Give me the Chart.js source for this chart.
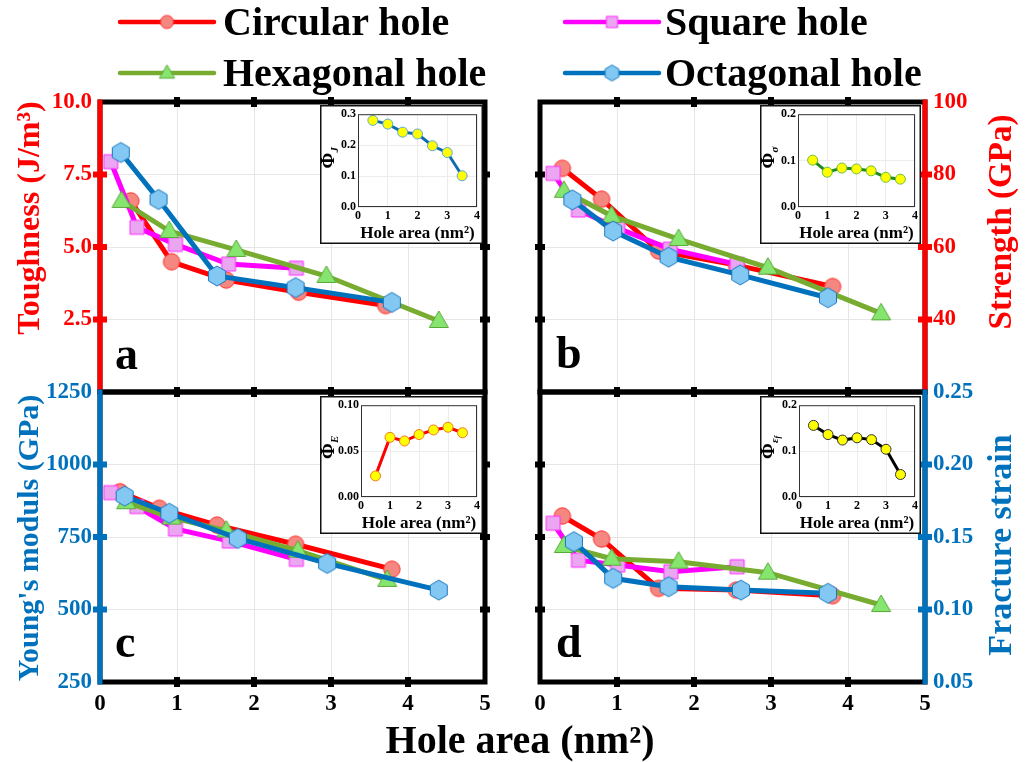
<!DOCTYPE html>
<html>
<head>
<meta charset="utf-8">
<script src="https://cdn.jsdelivr.net/npm/chart.js@4.4.1/dist/chart.umd.min.js"></script>
<style>
  body { margin: 0; width: 1025px; height: 762px; background: #fff; position: relative; overflow: hidden;
         font-family: "Liberation Serif", "Times New Roman", serif; font-weight: bold; }
  canvas { position: absolute; }
  .t { position: absolute; white-space: nowrap; line-height: 1; }
  .rot { transform: translate(-50%, -50%) rotate(-90deg); font-size: 30px; }
  .leg { font-size: 40px; color: #000; }
  .panel { font-size: 46px; color: #000; }
</style>
</head>
<body>
<canvas id="legend" width="1025" height="95" style="left:0;top:0"></canvas>
<div class="t leg" style="left:223px;top:2px">Circular hole</div>
<div class="t leg" style="left:665px;top:2px">Square hole</div>
<div class="t leg" style="left:223px;top:53px">Hexagonal hole</div>
<div class="t leg" style="left:665px;top:53px">Octagonal hole</div>

<canvas id="pa" width="500" height="335" style="left:0;top:80px"></canvas>
<canvas id="pb" width="505" height="335" style="left:520px;top:80px"></canvas>
<canvas id="pc" width="500" height="350" style="left:0;top:370px"></canvas>
<canvas id="pd" width="505" height="350" style="left:520px;top:370px"></canvas>

<canvas id="ia" width="163" height="139" style="left:320px;top:105px"></canvas>
<canvas id="ib" width="161" height="139" style="left:760px;top:105px"></canvas>
<canvas id="ic" width="163" height="138" style="left:320px;top:396px"></canvas>
<canvas id="id" width="161" height="138" style="left:760px;top:396px"></canvas>

<div class="t panel" style="left:115px;top:331px">a</div>
<div class="t panel" style="left:556px;top:330px">b</div>
<div class="t panel" style="left:115px;top:619px">c</div>
<div class="t panel" style="left:556px;top:619px">d</div>

<div class="t rot" style="left:28px;top:218px;color:#ff0000;font-size:32px">Toughness (J/m³)</div>
<div class="t rot" style="left:28px;top:538px;color:#0072bd">Young's moduls (GPa)</div>
<div class="t rot" style="left:1000px;top:222px;color:#ff0000;font-size:33px">Strength (GPa)</div>
<div class="t rot" style="left:1000px;top:545px;color:#0072bd;font-size:34px">Fracture strain</div>
<div class="t" style="left:520px;top:740px;transform:translate(-50%,-50%);font-size:40px">Hole area (nm²)</div>

<script>
// ---------- data ----------
const seriesNames = ["Circular hole", "Square hole", "Hexagonal hole", "Octagonal hole"];
const xTicks = [0, 1, 2, 3, 4, 5];
const xTickLabels = ["0", "1", "2", "3", "4", "5"];

// (a) toughness, J/m3
const aCircX = [0.40, 0.93, 1.64, 2.58, 3.71];
const aCircY = [6.59, 4.49, 3.86, 3.44, 2.98];
const aSqX = [0.14, 0.48, 0.98, 1.67, 2.55];
const aSqY = [7.94, 5.68, 5.09, 4.41, 4.27];
const aHexX = [0.28, 0.90, 1.77, 2.94, 4.40];
const aHexY = [6.59, 5.55, 4.90, 4.00, 2.45];
const aOctX = [0.27, 0.76, 1.52, 2.54, 3.79];
const aOctY = [8.26, 6.64, 4.00, 3.60, 3.09];
const aYTicks = [0, 2.5, 5, 7.5, 10];
const aYLabels = ["", "2.5", "5.0", "7.5", "10.0"];

// (b) strength, GPa
const bCircX = [0.29, 0.80, 1.54, 2.55, 3.80];
const bCircY = [81.7, 73.2, 58.9, 55.0, 49.1];
const bSqX = [0.17, 0.50, 1.01, 1.69, 2.56];
const bSqY = [80.3, 70.2, 65.2, 59.4, 55.2];
const bHexX = [0.31, 0.93, 1.80, 2.96, 4.43];
const bHexY = [75.5, 68.6, 62.2, 54.3, 41.7];
const bOctX = [0.42, 0.95, 1.67, 2.60, 3.74];
const bOctY = [73.0, 64.4, 57.2, 52.3, 46.0];
const bYTicks = [20, 40, 60, 80, 100];
const bYLabels = ["", "40", "60", "80", "100"];

// (c) Young's modulus, GPa
const cCircX = [0.26, 0.77, 1.52, 2.54, 3.79];
const cCircY = [906, 849, 791, 725, 639];
const cSqX = [0.14, 0.48, 0.98, 1.68, 2.55];
const cSqY = [903, 855, 778, 736, 673];
const cHexX = [0.34, 0.93, 1.64, 2.57, 3.73];
const cHexY = [870, 817, 772, 703, 602];
const cOctX = [0.32, 0.90, 1.79, 2.95, 4.40];
const cOctY = [891, 832, 745, 659, 567];
const cYTicks = [250, 500, 750, 1000, 1250];
const cYLabels = ["250", "500", "750", "1000", "1250"];

// (d) fracture strain
const dCircX = [0.29, 0.80, 1.54, 2.55, 3.80];
const dCircY = [0.1645, 0.1486, 0.1146, 0.1134, 0.1095];
const dSqX = [0.17, 0.50, 1.01, 1.70, 2.56];
const dSqY = [0.1595, 0.134, 0.1307, 0.126, 0.1295];
const dHexX = [0.31, 0.93, 1.80, 2.96, 4.43];
const dHexY = [0.1438, 0.135, 0.133, 0.1254, 0.1031];
const dOctX = [0.44, 0.95, 1.67, 2.61, 3.74];
const dOctY = [0.1468, 0.1215, 0.1157, 0.1134, 0.1112];
const dYTicks = [0.05, 0.10, 0.15, 0.20, 0.25];
const dYLabels = ["0.05", "0.10", "0.15", "0.20", "0.25"];

// insets
const insetX = [0.5, 1, 1.5, 2, 2.5, 3, 3.5];
const insetXTicks = [0, 1, 2, 3, 4];
const phiJ = [0.280, 0.268, 0.242, 0.236, 0.198, 0.176, 0.101];
const phiSigma = [0.101, 0.075, 0.084, 0.082, 0.078, 0.064, 0.060];
const phiE = [0.023, 0.065, 0.061, 0.068, 0.073, 0.076, 0.070];
const phiEps = [0.156, 0.136, 0.124, 0.129, 0.125, 0.104, 0.049];
const phiJTicks = [0, 0.1, 0.2, 0.3];
const phiSigmaTicks = [0, 0.1, 0.2];
const phiETicks = [0, 0.05, 0.10];
const phiEpsTicks = [0, 0.1, 0.2];

// ---------- styles ----------
const RED = "#ff0000", BLUE = "#0072bd", GREEN = "#77ac30", MAG = "#ff00ff";
const serif = "'Liberation Serif', 'Times New Roman', serif";

function markerCanvas(kind, fill, edge, k) {
  const s = Math.ceil(26 * k);
  const c = document.createElement("canvas");
  c.width = s; c.height = s;
  const g = c.getContext("2d");
  const m = s / 2;
  g.beginPath();
  if (kind === "circle") g.arc(m, m, 8.2 * k, 0, Math.PI * 2);
  else if (kind === "square") g.rect(m - 7 * k, m - 7 * k, 14 * k, 14 * k);
  else if (kind === "triangle") {
    g.moveTo(m, m - 10 * k); g.lineTo(m + 9.5 * k, m + 6.5 * k); g.lineTo(m - 9.5 * k, m + 6.5 * k); g.closePath();
  } else {
    for (let i = 0; i < 6; i++) {
      const a = -Math.PI / 2 + i * Math.PI / 3;
      const px = m + 9.8 * k * Math.cos(a), py = m + 10 * k * Math.sin(a);
      if (i) g.lineTo(px, py); else g.moveTo(px, py);
    }
    g.closePath();
  }
  g.fillStyle = fill; g.fill();
  g.lineWidth = 1; g.strokeStyle = edge; g.stroke();
  return c;
}

const mk = {
  circle: markerCanvas("circle", "#f4877f", "#ff3030", 1),
  square: markerCanvas("square", "#eaa6f0", "#ff30ff", 1),
  triangle: markerCanvas("triangle", "#86e56e", "#5aa83a", 1),
  hexagon: markerCanvas("hexagon", "#82c8f2", "#1a78c0", 1)
};

function ds(i, xs, ys, color, marker) {
  return {
    label: seriesNames[i],
    data: xs.map((x, j) => ({ x: x, y: ys[j] })),
    showLine: true, tension: 0,
    borderColor: color, borderWidth: 5,
    pointStyle: marker, pointRadius: 9,
    order: 3 - i
  };
}

const framePlugin = {
  id: "frame",
  afterDraw(chart, args, o) {
    const { ctx, chartArea: a, scales } = chart;
    ctx.save();
    ctx.strokeStyle = "#000";
    ctx.lineWidth = 5;
    ctx.strokeRect(a.left, a.top, a.right - a.left, a.bottom - a.top);
    ctx.fillStyle = "#000";
    xTicks.forEach(v => {
      if (v <= 0 || v >= 5) return;
      const px = scales.x.getPixelForValue(v);
      ctx.fillRect(px - 3, a.top - 5, 6, 10);
      ctx.fillRect(px - 3, a.bottom - 5, 6, 10);
    });
    const cx = o.side === "left" ? a.left : a.right;
    const bx = o.side === "left" ? a.right : a.left;
    scales.y.ticks.forEach(t => {
      const py = scales.y.getPixelForValue(t.value);
      if (py <= a.top + 1 || py >= a.bottom - 1) return;
      ctx.fillStyle = "#000";
      ctx.fillRect(bx - 5, py - 3, 10, 6);
      ctx.fillStyle = o.color;
      ctx.fillRect(cx - 7, py - 3, 14, 6);
    });
    ctx.fillStyle = o.color;
    ctx.fillRect(cx - 2.5, a.top - 2.5, 5, a.bottom - a.top + 5);
    ctx.restore();
  }
};

function mainPanel(id, sets, side, color, yMin, yMax, yTicks, yLabels, showX, pad, xh) {
  const tickFont = { family: serif, weight: "bold", size: 23 };
  new Chart(document.getElementById(id), {
    type: "scatter",
    data: { datasets: sets },
    options: {
      animation: false, responsive: false, events: [],
      layout: { padding: pad },
      plugins: { legend: { display: false }, tooltip: { enabled: false }, frame: { side: side, color: color } },
      scales: {
        x: {
          type: "linear", min: 0, max: 5,
          afterBuildTicks: s => { s.ticks = xTicks.map(v => ({ value: v })); },
          afterFit: s => { s.height = xh; },
          grid: { color: "#e6e6e6", drawTicks: false },
          border: { display: false },
          ticks: { display: showX, padding: 8, color: "#000", font: tickFont, maxRotation: 0,
                   callback: (v, i) => xTickLabels[i] }
        },
        y: {
          type: "linear", position: side, min: yMin, max: yMax,
          afterBuildTicks: s => { s.ticks = yTicks.map(v => ({ value: v })); },
          afterFit: s => { s.width = 100; },
          grid: { color: "#e6e6e6", drawTicks: false },
          border: { display: false },
          ticks: { padding: 8, color: color, font: tickFont, callback: (v, i) => yLabels[i] }
        }
      }
    },
    plugins: [framePlugin]
  });
}

mainPanel("pa", [
  ds(0, aCircX, aCircY, RED, mk.circle), ds(1, aSqX, aSqY, MAG, mk.square),
  ds(2, aHexX, aHexY, GREEN, mk.triangle), ds(3, aOctX, aOctY, BLUE, mk.hexagon)
], "left", RED, 0, 10, aYTicks, aYLabels, false, { left: 0, right: 15, top: 22, bottom: 23 }, 0);

mainPanel("pb", [
  ds(0, bCircX, bCircY, RED, mk.circle), ds(1, bSqX, bSqY, MAG, mk.square),
  ds(2, bHexX, bHexY, GREEN, mk.triangle), ds(3, bOctX, bOctY, BLUE, mk.hexagon)
], "right", RED, 20, 100, bYTicks, bYLabels, false, { left: 20, right: 0, top: 22, bottom: 23 }, 0);

mainPanel("pc", [
  ds(0, cCircX, cCircY, RED, mk.circle), ds(1, cSqX, cSqY, MAG, mk.square),
  ds(2, cHexX, cHexY, GREEN, mk.triangle), ds(3, cOctX, cOctY, BLUE, mk.hexagon)
], "left", BLUE, 250, 1250, cYTicks, cYLabels, true, { left: 0, right: 15, top: 22, bottom: 0 }, 38);

mainPanel("pd", [
  ds(0, dCircX, dCircY, RED, mk.circle), ds(1, dSqX, dSqY, MAG, mk.square),
  ds(2, dHexX, dHexY, GREEN, mk.triangle), ds(3, dOctX, dOctY, BLUE, mk.hexagon)
], "right", BLUE, 0.05, 0.25, dYTicks, dYLabels, true, { left: 20, right: 0, top: 22, bottom: 0 }, 38);

// ---------- insets ----------
const insetPlugin = {
  id: "inset",
  beforeDraw(chart) {
    const { ctx, width, height } = chart;
    ctx.save();
    ctx.fillStyle = "#fff";
    ctx.fillRect(0, 0, width, height);
    ctx.restore();
  },
  afterDraw(chart, args, o) {
    const { ctx, chartArea: a, width, height } = chart;
    ctx.save();
    ctx.strokeStyle = "#333"; ctx.lineWidth = 1;
    ctx.strokeRect(a.left + 0.5, a.top + 0.5, a.right - a.left - 1, a.bottom - a.top - 1);
    ctx.strokeStyle = "#111"; ctx.lineWidth = 1.5;
    ctx.strokeRect(0.75, 0.75, width - 1.5, height - 1.5);
    // rotated Phi label
    ctx.translate(14, (a.top + a.bottom) / 2);
    ctx.rotate(-Math.PI / 2);
    ctx.fillStyle = "#000";
    ctx.textAlign = "center"; ctx.textBaseline = "alphabetic";
    ctx.font = "bold 19px " + serif;
    ctx.fillText("Φ", 0, 0);
    ctx.textAlign = "left";
    ctx.font = "italic bold 11px " + serif;
    ctx.fillText(o.sub, 8, 4);
    if (o.sub2) {
      const w = ctx.measureText(o.sub).width;
      ctx.font = "italic bold 8px " + serif;
      ctx.fillText(o.sub2, 8 + w, 6);
    }
    ctx.restore();
  }
};

function inset(id, ys, yMax, yTicks, digits, line, edge, left, right, sub, sub2) {
  const f = { family: serif, weight: "bold", size: 12 };
  new Chart(document.getElementById(id), {
    type: "scatter",
    data: { datasets: [{
      data: insetX.map((x, j) => ({ x: x, y: ys[j] })),
      showLine: true, tension: 0, borderColor: line, borderWidth: 3,
      pointRadius: 5, pointBackgroundColor: "#ffff00", pointBorderColor: edge, pointBorderWidth: 1
    }] },
    options: {
      animation: false, responsive: false, events: [],
      layout: { padding: { left: 0, right: right, top: 8, bottom: 0 } },
      plugins: { legend: { display: false }, tooltip: { enabled: false }, inset: { sub: sub, sub2: sub2 } },
      scales: {
        x: {
          type: "linear", min: 0, max: 4,
          afterBuildTicks: s => { s.ticks = insetXTicks.map(v => ({ value: v })); },
          afterFit: s => { s.height = 37; },
          grid: { color: "#ececec", drawTicks: false }, border: { display: false },
          ticks: { padding: 2, color: "#000", font: f, maxRotation: 0 },
          title: { display: true, text: "Hole area (nm²)", color: "#000", padding: 0,
                   font: { family: serif, weight: "bold", size: 17 } }
        },
        y: {
          type: "linear", min: 0, max: yMax,
          afterBuildTicks: s => { s.ticks = yTicks.map(v => ({ value: v })); },
          afterFit: s => { s.width = left; },
          grid: { color: "#ececec", drawTicks: false }, border: { display: false },
          ticks: { padding: 2, color: "#000", font: f, callback: v => v.toFixed(digits) }
        }
      }
    },
    plugins: [insetPlugin]
  });
}

inset("ia", phiJ, 0.3, phiJTicks, 1, "#0e6db0", "#5aa8d8", 38, 4, "J");
inset("ib", phiSigma, 0.2, phiSigmaTicks, 1, "#1f8b1f", "#6cbf3a", 38, 2, "σ");
inset("ic", phiE, 0.1, phiETicks, 2, "#ff0000", "#f07a20", 41, 4, "E");
inset("id", phiEps, 0.2, phiEpsTicks, 1, "#000000", "#333333", 39, 2, "ε", "f");

// ---------- legend ----------
(function drawLegend() {
  const g = document.getElementById("legend").getContext("2d");
  const small = {
    circle: markerCanvas("circle", "#f4877f", "#ff3030", 0.8),
    square: markerCanvas("square", "#eaa6f0", "#ff30ff", 0.8),
    triangle: markerCanvas("triangle", "#86e56e", "#5aa83a", 0.8),
    hexagon: markerCanvas("hexagon", "#82c8f2", "#1a78c0", 0.8)
  };
  const items = [
    [120, 22, RED, small.circle], [565, 22, MAG, small.square],
    [120, 73, GREEN, small.triangle], [565, 73, BLUE, small.hexagon]
  ];
  items.forEach(([x, y, c, m]) => {
    g.strokeStyle = c; g.lineWidth = 4.5; g.lineCap = "round";
    g.beginPath(); g.moveTo(x, y); g.lineTo(x + 94, y); g.stroke();
    g.drawImage(m, x + 47 - m.width / 2, y - m.height / 2);
  });
})();
</script>
</body>
</html>
